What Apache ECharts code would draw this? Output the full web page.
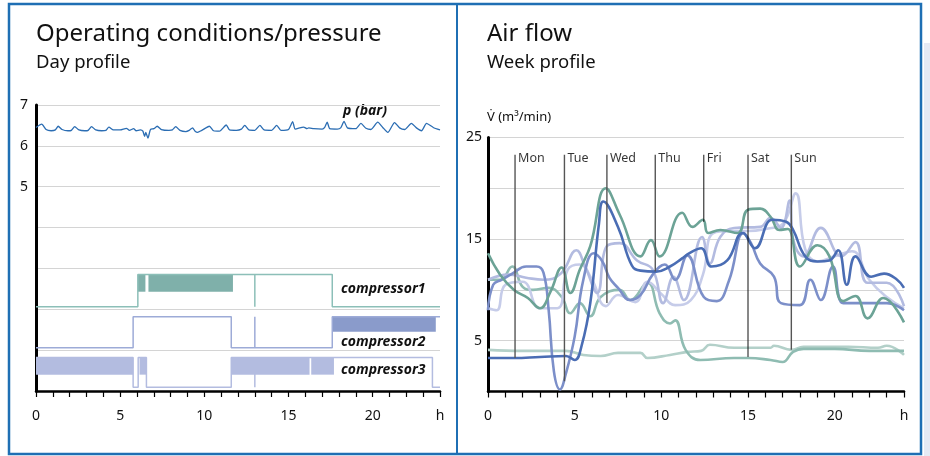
<!DOCTYPE html>
<html>
<head>
<meta charset="utf-8">
<script src="https://cdn.jsdelivr.net/npm/echarts@6/dist/echarts.min.js"></script>
<style>
  html, body { margin: 0; padding: 0; background: #fff; }
  #chart { width: 930px; height: 456px; }
</style>
</head>
<body>
<div id="chart"></div>
<script>
// ── Day profile: pressure (h, bar) ─────────────────────────────────────
const pressure = [
  [0,6.45],[0.34,6.53],[0.6,6.4],[0.9,6.37],[1.15,6.39],[1.32,6.48],[1.55,6.4],[1.9,6.37],
  [2.1,6.38],[2.3,6.47],[2.55,6.39],[2.9,6.37],[3.1,6.38],[3.3,6.47],[3.55,6.39],[3.9,6.37],
  [4.15,6.38],[4.33,6.46],[4.6,6.39],[5.0,6.39],[5.37,6.43],[5.55,6.38],[5.8,6.42],[5.95,6.37],
  [6.2,6.39],[6.35,6.36],[6.45,6.23],[6.52,6.33],[6.65,6.19],[6.8,6.4],[7.0,6.42],[7.2,6.48],
  [7.45,6.4],[7.9,6.38],[8.1,6.39],[8.3,6.47],[8.55,6.38],[8.9,6.35],[9.1,6.38],[9.3,6.44],
  [9.45,6.36],[9.6,6.33],[9.85,6.38],[10.3,6.48],[10.55,6.37],[10.9,6.36],[11.3,6.51],[11.5,6.39],
  [11.9,6.38],[12.2,6.41],[12.4,6.5],[12.65,6.39],[13.0,6.38],[13.3,6.5],[13.55,6.39],[14.0,6.38],
  [14.3,6.5],[14.55,6.38],[15.0,6.4],[15.25,6.59],[15.4,6.41],[15.9,6.46],[16.1,6.42],[16.2,6.44],
  [16.5,6.42],[17.0,6.41],[17.15,6.45],[17.3,6.58],[17.45,6.42],[17.9,6.41],[18.1,6.44],[18.3,6.6],
  [18.5,6.44],[19.0,6.42],[19.3,6.55],[19.6,6.43],[19.9,6.4],[20.3,6.58],[20.6,6.45],[20.9,6.33],
  [21.3,6.57],[21.6,6.44],[21.9,6.4],[22.3,6.55],[22.6,6.44],[22.9,6.37],[23.2,6.55],[23.6,6.45],[24,6.39]
];

// compressor on/off outlines (h, level) and load blocks [from, to, bottom, top]
const comp1Outline = [[0,2.06],[6.05,2.06],[6.05,2.85],[17.6,2.85],[17.6,2.06],[24,2.06]];
const comp1Blocks  = [[6.05,6.5,2.43,2.85],[6.68,11.7,2.43,2.85]];
const comp2Outline = [[0,1.06],[5.77,1.06],[5.77,1.82],[11.6,1.82],[11.6,1.06],[17.6,1.06],[17.6,1.82],[24,1.82]];
const comp2Blocks  = [[17.6,23.75,1.45,1.82]];
const comp3Outline = [[0,0.82],[5.77,0.82],[5.77,0.09],[6.07,0.09],[6.07,0.82],[6.56,0.82],[6.56,0.09],
                      [11.6,0.09],[11.6,0.82],[23.55,0.82],[23.55,0.09],[24,0.09]];
const comp3Blocks  = [[0,5.77,0.40,0.82],[6.15,6.56,0.40,0.82],[11.6,16.25,0.40,0.82],[16.35,17.7,0.40,0.82]];
const switchHour = 13;
const compLevels = [[2.85,2.06],[1.82,1.06],[0.82,0.09]];

// ── Week profile: air flow (h, m3/min) ─────────────────────────────────
const flowA = [[0,3.3],[1.5,3.3],[3,3.4],[4.5,3.5],[5,3.1],[5.4,4.5],[5.9,8.7],[6.4,16.5],[6.65,18.7],
  [7.5,16.2],[8.3,12.4],[8.8,11.9],[9.7,11.8],[10.5,12.3],[11.2,13.1],[11.6,13.6],[12.3,14.1],[12.9,12.3],
  [13.8,12.9],[14.7,15.6],[15.4,14.1],[16.4,16.9],[17.2,16.7],[17.6,15.9],[18.3,13.3],[19,12.8],[19.7,12.9],
  [20.2,13.9],[20.7,10.5],[21.2,13.3],[22.1,11.3],[22.85,11.6],[23.6,11],[24,10.2]];
const flowB = [[0,8],[0.3,10.5],[0.8,11],[1.4,11.6],[2.2,12.3],[2.8,12.3],[3.2,11.7],[3.5,8],[3.8,2],
  [4.15,0.2],[4.5,1.8],[5,5.4],[5.5,11],[6.1,13.6],[6.6,12.8],[7.0,11.2],[7.5,10.2],[8.2,9.0],[8.8,9.5],
  [9.5,11.5],[10.2,12.5],[10.8,11.0],[11.5,13.4],[12.45,9.3],[13.2,8.9],[13.9,10.9],[14.75,15.6],[15.2,14.5],
  [15.7,12.6],[16.5,11.3],[16.9,8.7],[18,8.5],[18.6,11],[19.2,9],[19.9,12.3],[20.5,8.7],[21.5,8.7],[23,8.7],[24,8]];
const flowC = [[0,11],[1.2,11.5],[2.2,11.2],[3.2,11],[4.2,11.6],[5.1,13.9],[5.6,12.3],[6.3,9.7],[6.85,14.3],
  [7.6,14.6],[8.6,12.9],[9.5,12],[10.1,8.7],[10.7,11.3],[11.3,9],[12.35,15.2],[12.8,12.6],[13.4,15.2],
  [14.2,16.1],[15.7,16.2],[16.3,17.1],[16.9,16.1],[17.4,18.8],[17.6,15],[18.2,13.3],[19.2,16.1],[20.4,13.3],
  [21.2,14.7],[21.9,10.7],[23,10.7],[24,8.4]];
const flowG = [[0,8.2],[0.5,8.0],[1,10.5],[2,10.8],[3,8.2],[4,8.2],[4.6,12],[5.3,12.5],[6,11],[6.8,8.4],
  [7.5,9.5],[8.5,8.8],[9.2,10.8],[10,9.6],[10.8,8.5],[11.7,9],[12.4,11.5],[13.0,15.6],[14,15.8],[15,15.8],
  [16,16.0],[17,16.5],[17.75,19.5],[18.3,14],[19,12.8],[20,13.3],[21,13.8],[22,11],[23,9.3],[24,8.2]];
const flowD = [[0,13.6],[0.7,11.5],[1.5,10],[2.3,9.2],[3,8.2],[3.6,9.8],[4.25,12.2],[4.75,9.7],[5.3,12],
  [5.9,14.3],[6.8,20],[7.6,17.4],[8.8,13.3],[9.4,14.9],[9.9,13.3],[11.2,17.6],[11.8,16.2],[12.4,16.9],
  [12.7,15.6],[13.4,15.9],[14.4,15.6],[15,17.9],[15.7,18],[16.3,17.2],[16.8,15.9],[17.3,16],[18.0,12.3],
  [19,14.4],[19.7,13.3],[20.5,8.9],[21.2,9.4],[21.9,7.2],[22.8,9.2],[24,6.8]];
const flowE = [[0,4.1],[2,4.0],[4.5,4.0],[5.5,3.6],[6.5,3.5],[7.5,3.8],[8.8,3.8],[9.2,3.3],[10.5,3.6],
  [11.5,3.9],[12.3,4.0],[12.8,4.6],[14.2,4.3],[16.3,4.3],[16.5,4.5],[17.5,4.1],[18.2,4.4],[20.8,4.4],
  [22.5,4.3],[23,4.5],[24,3.6]];
const flowF = [[0,11],[0.7,11],[1.4,12.3],[2,10.3],[2.6,10],[3.5,10.2],[4.25,9.3],[4.75,7.7],[5.3,8.7],
  [5.9,7.4],[6.5,9.3],[7.6,10],[8.2,9.0],[9.2,10.7],[9.9,7.7],[10.5,6.7],[10.8,7.0],[11.4,4.1],[12.25,3.1],
  [14.2,3.3],[15,3.3],[16.3,3.1],[17,2.9],[17.6,3.9],[18.2,4.2],[20,4.2],[22,4.0],[24,4.0]];

const dayNames   = ['Mon','Tue','Wed','Thu','Fri','Sat','Sun'];
const dayHours   = [1.56, 4.41, 6.86, 9.65, 12.45, 15.0, 17.5];
const dayLineEnd = [3.3, 1.0, 8.7, 11.8, 16.7, 3.4, 4.1];
const dayLineTop = 23.3;

const FONT = '"Noto Sans", sans-serif';
const BORDER = '#1f6fb4';

const chart = echarts.init(document.getElementById('chart'), null, { renderer: 'canvas' });

function hourLabel(v) {
  if (v === 24) return 'h';
  return v % 5 === 0 ? String(v) : '';
}

function xAxisFor(gridIndex) {
  return {
    type: 'value', gridIndex, min: 0, max: 24, interval: 1,
    axisLine: { show: true, lineStyle: { color: '#000', width: 2.5 } },
    axisTick: { show: true, length: 6, lineStyle: { color: '#000', width: 1.2 } },
    axisLabel: { formatter: hourLabel, color: '#111', fontSize: 14, fontFamily: FONT, margin: 18 },
    splitLine: { show: false }
  };
}

function blockSeries(blocks, color) {
  return {
    type: 'custom', xAxisIndex: 0, yAxisIndex: 0, silent: true,
    data: blocks,
    encode: { x: [0, 1], y: [2, 3] },
    renderItem(params, api) {
      const a = api.coord([api.value(0), api.value(3)]);
      const b = api.coord([api.value(1), api.value(2)]);
      return { type: 'rect', shape: { x: a[0], y: a[1], width: b[0] - a[0], height: b[1] - a[1] }, style: { fill: color } };
    }
  };
}

function stepLine(data, color, xi) {
  return {
    type: 'line', xAxisIndex: xi, yAxisIndex: xi, data, showSymbol: false, silent: true,
    lineStyle: { color, width: 1.5 }
  };
}

function flowLine(data, color) {
  return {
    type: 'line', xAxisIndex: 1, yAxisIndex: 1, data, showSymbol: false, smooth: 0.45, silent: true,
    lineStyle: { color, width: 2.6 }
  };
}

const series = [
  { type: 'line', xAxisIndex: 0, yAxisIndex: 0, data: pressure, showSymbol: false, smooth: 0.2,
    lineStyle: { color: '#2b6db3', width: 1.3 } },
  blockSeries(comp1Blocks, '#7fb0aa'),
  blockSeries(comp2Blocks, '#8a9bcb'),
  blockSeries(comp3Blocks, '#b3bce0'),
  stepLine(comp1Outline, '#8cbfb8', 0),
  stepLine(comp2Outline, '#9dabd7', 0),
  stepLine(comp3Outline, '#b3bce0', 0)
];
const compColors = ['#8cbfb8', '#9dabd7', '#b3bce0'];
compLevels.forEach((lv, i) => {
  series.push(stepLine([[switchHour, lv[0]], [switchHour, lv[1]]], compColors[i], 0));
});

// week profile curves
series.push(flowLine(flowE, '#b3d0c9'));
series.push(flowLine(flowF, '#8fbcb2'));
series.push(flowLine(flowG, '#c6cce9'));
series.push(flowLine(flowC, '#b3bbe0'));
series.push(flowLine(flowB, '#7c8fc9'));
series.push(flowLine(flowD, '#6ca396'));
series.push(flowLine(flowA, '#4a6db4'));

// day markers
dayHours.forEach((h, i) => {
  const dark = dayNames[i] === 'Fri' || dayNames[i] === 'Sat';
  series.push({
    type: 'line', xAxisIndex: 1, yAxisIndex: 1, silent: true, showSymbol: false,
    data: [[h, dayLineTop], [h, dayLineEnd[i]]],
    lineStyle: { color: dark ? '#111' : '#555', width: dark ? 1 : 1.4 }
  });
});
series.push({
  type: 'scatter', xAxisIndex: 1, yAxisIndex: 1, silent: true, symbolSize: 0,
  data: dayHours.map(h => [h, dayLineTop]),
  label: {
    show: true, position: 'right', distance: 3, offset: [0, 4],
    formatter: p => dayNames[p.dataIndex], color: '#000', fontSize: 12.5, fontFamily: FONT
  }
});

const option = {
  animation: false,
  backgroundColor: '#fff',
  grid: [
    { left: 36, top: 105, width: 404, height: 286 },
    { left: 488, top: 137.5, width: 416, height: 254 }
  ],
  xAxis: [xAxisFor(0), xAxisFor(1)],
  yAxis: [
    { type: 'value', gridIndex: 0, min: 0, max: 7, interval: 1,
      axisLine: { show: true, lineStyle: { color: '#000', width: 3 } },
      axisTick: { show: false },
      axisLabel: { formatter: v => (v >= 5 ? String(v) : ''), color: '#111', fontSize: 14, fontFamily: FONT, margin: 8 },
      splitLine: { show: true, lineStyle: { color: '#d4d4d4', width: 1 } } },
    { type: 'value', gridIndex: 1, min: 0, max: 25, interval: 5,
      axisLine: { show: true, lineStyle: { color: '#000', width: 3 } },
      axisTick: { show: false },
      axisLabel: { formatter: v => (v === 5 || v === 15 || v === 25 ? String(v) : ''), color: '#111', fontSize: 14, fontFamily: FONT, margin: 6 },
      splitLine: { show: true, lineStyle: { color: '#d4d4d4', width: 1 } } }
  ],
  graphic: [
    { type: 'rect', z: -1, shape: { x: 924, y: 43, width: 6, height: 413 }, style: { fill: '#e6eaf4' } },
    { type: 'rect', shape: { x: 9, y: 4, width: 912, height: 450 }, style: { fill: 'none', stroke: BORDER, lineWidth: 2.5 } },
    { type: 'line', shape: { x1: 457, y1: 4, x2: 457, y2: 454 }, style: { stroke: BORDER, lineWidth: 2 } },
    { type: 'text', style: { x: 36, y: 34, text: 'Operating conditions/pressure', font: '24px ' + FONT, fill: '#111', verticalAlign: 'middle' } },
    { type: 'text', style: { x: 36, y: 63, text: 'Day profile', font: '18.5px ' + FONT, fill: '#111', verticalAlign: 'middle' } },
    { type: 'text', style: { x: 487, y: 34, text: 'Air flow', font: '24px ' + FONT, fill: '#111', verticalAlign: 'middle' } },
    { type: 'text', style: { x: 487, y: 63, text: 'Week profile', font: '18.5px ' + FONT, fill: '#111', verticalAlign: 'middle' } },
    { type: 'text', style: { x: 487, y: 117, text: 'V\u0307 (m\u00b3/min)', font: '13px ' + FONT, fill: '#111', verticalAlign: 'middle' } },
    { type: 'text', style: { x: 343, y: 111, text: 'p (bar)', font: 'italic bold 14px ' + FONT, fill: '#111', verticalAlign: 'middle' } },
    { type: 'text', style: { x: 341, y: 289, text: 'compressor1', font: 'italic bold 14px ' + FONT, fill: '#111', verticalAlign: 'middle' } },
    { type: 'text', style: { x: 341, y: 342, text: 'compressor2', font: 'italic bold 14px ' + FONT, fill: '#111', verticalAlign: 'middle' } },
    { type: 'text', style: { x: 341, y: 370, text: 'compressor3', font: 'italic bold 14px ' + FONT, fill: '#111', verticalAlign: 'middle' } }
  ],
  series
};

chart.setOption(option);
</script>
</body>
</html>
